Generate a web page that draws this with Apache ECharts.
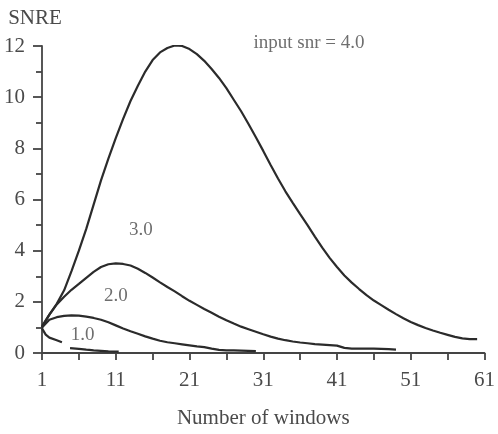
<!DOCTYPE html>
<html>
<head>
<meta charset="utf-8">
<script src="https://cdn.jsdelivr.net/npm/echarts@6/dist/echarts.min.js"></script>
<style>
html,body{margin:0;padding:0;background:#fff;}
#c{width:498px;height:434px;}
</style>
</head>
<body>
<div id="c"></div>
<script>
// Number of windows (x values)
var windows = [1,2,3,4,5,6,7,8,9,10,11,12,13,14,15,16,17,18,19,20,21,22,23,24,25,26,27,28,29,30,
  31,32,33,34,35,36,37,38,39,40,41,42,43,44,45,46,47,48,49,50,51,52,53,54,55,56,57,58,59,60];

// input snr = 4.0
var snr4 = [1.05,1.5,1.92,2.45,3.2,4.0,4.85,5.8,6.75,7.6,8.4,9.15,9.85,10.45,11.0,11.45,11.75,11.92,12.02,12.0,
  11.88,11.68,11.42,11.1,10.75,10.35,9.9,9.45,8.95,8.43,7.9,7.35,6.82,6.32,5.87,5.43,5.0,4.55,4.12,3.72,
  3.36,3.03,2.75,2.5,2.26,2.05,1.87,1.69,1.52,1.36,1.21,1.09,0.98,0.88,0.79,0.71,0.63,0.57,0.54,0.54];

// curve labelled 3.0
var snr3 = [1.0,1.5,1.9,2.2,2.47,2.7,2.94,3.17,3.36,3.47,3.5,3.48,3.42,3.29,3.13,2.95,2.76,2.58,2.41,2.22,
  2.04,1.88,1.72,1.57,1.42,1.28,1.15,1.03,0.93,0.83,0.73,0.64,0.56,0.5,0.45,0.41,0.38,0.35,0.33,0.31,
  0.29,0.2,0.17,0.17,0.17,0.17,0.16,0.15,0.13,null,null,null,null,null,null,null,null,null,null,null];

// curve labelled 2.0
var snr2 = [1.0,1.3,1.4,1.45,1.47,1.46,1.42,1.37,1.3,1.2,1.08,0.96,0.85,0.75,0.65,0.56,0.48,0.42,0.38,0.34,
  0.3,0.26,0.23,0.17,0.12,0.1,0.1,0.09,0.08,0.07,null,null,null,null,null,null,null,null,null,null,
  null,null,null,null,null,null,null,null,null,null,null,null,null,null,null,null,null,null,null,null];

// curve labelled 1.0 (broken line)
var snr1Windows = [1,1.5,2,3,3.7,4.2,4.8,6,7,7.4,8,9,10,11.4];
var snr1 = [0.96,0.72,0.6,0.5,0.42,null,0.19,0.16,0.13,0.12,0.1,0.08,0.06,0.05];

// annotations
var noteText = ['input snr = 4.0','3.0','2.0','1.0'];
var noteX = [37.2,14.4,11,6.5];
var noteY = [12.1,4.8,2.23,0.7];

// axis ticks
var xTickMin = 1, xTickMax = 61, xTickStep = 10;
var yTickMin = 0, yTickMax = 12, yTickStep = 2;

function pairs(xs, ys){ return xs.map(function(x,i){ return [x, ys[i]]; }); }

var font = 'Liberation Serif';
var txt = '#4a4a4a';
var lineCol = '#2b2b2b';

var lineStyle = {color: lineCol, width: 2.2};
function lineSeries(data){
  return {type:'line', data:data, showSymbol:false, symbol:'none', connectNulls:false,
    lineStyle:lineStyle, silent:true, animation:false};
}

var chart = echarts.init(document.getElementById('c'), null, {renderer:'canvas'});
chart.setOption({
  backgroundColor:'#fff',
  animation:false,
  grid:{left:42, right:7, top:46, bottom:76, containLabel:false},
  xAxis:{
    type:'value', min:xTickMin, max:xTickMax, interval:xTickStep,
    name:'Number of windows', nameLocation:'middle', nameGap:55,
    nameTextStyle:{fontFamily:font, fontSize:21, color:txt},
    axisLine:{show:true, onZero:false, lineStyle:{color:'#444', width:1.8}},
    axisTick:{show:true, inside:false, length:7, lineStyle:{color:'#444', width:1.8}},
    minorTick:{show:true, splitNumber:2, length:7, lineStyle:{color:'#444', width:1.8}},
    splitLine:{show:false},
    axisLabel:{margin:17, fontFamily:font, fontSize:21, color:txt, showMaxLabel:true}
  },
  yAxis:{
    type:'value', min:yTickMin, max:yTickMax, interval:yTickStep,
    name:'SNRE', nameLocation:'end', nameGap:17,
    nameTextStyle:{fontFamily:font, fontSize:21, color:txt, padding:[0,14,0,0]},
    axisLine:{show:true, lineStyle:{color:'#444', width:1.8}},
    axisTick:{show:true, length:9, lineStyle:{color:'#444', width:1.8}},
    minorTick:{show:true, splitNumber:2, length:6, lineStyle:{color:'#444', width:1.8}},
    splitLine:{show:false},
    axisLabel:{margin:17, fontFamily:font, fontSize:21, color:txt}
  },
  series:[
    lineSeries(pairs(windows, snr4)),
    lineSeries(pairs(windows, snr3)),
    lineSeries(pairs(windows, snr2)),
    lineSeries(pairs(snr1Windows, snr1)),
    {type:'scatter', symbolSize:0, silent:true, animation:false, clip:false,
     data: noteText.map(function(t,i){ return {name:t, value:[noteX[i], noteY[i]]}; }),
     label:{show:true, position:'inside', formatter:function(p){return p.name;},
       fontFamily:font, fontSize:19, color:txt}}
  ]
});
</script>
</body>
</html>
